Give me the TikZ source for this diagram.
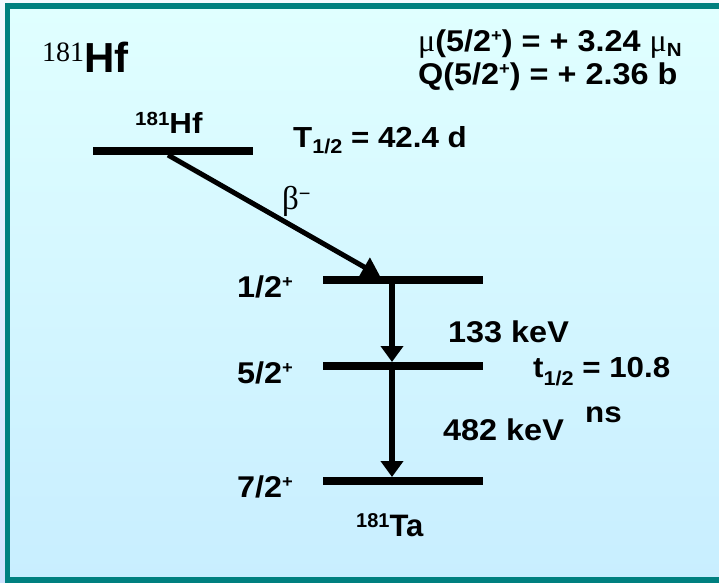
\documentclass[tikz,border=0pt]{standalone}
\usepackage{fontspec}
\setmainfont{Liberation Sans}
\newfontfamily\timesfont{Liberation Serif}
\newfontfamily\lblfont[FakeStretch=1.08]{Liberation Sans}
\usetikzlibrary{arrows.meta,positioning}
\definecolor{frameteal}{HTML}{008080}
\definecolor{skytop}{HTML}{E0FFFF}
\definecolor{skybottom}{HTML}{C8EEFF}
\definecolor{paletop}{HTML}{F4F9FF}
\definecolor{palebottom}{HTML}{CFE2FF}
\newcommand{\fsz}[1]{\fontsize{#1}{#1}\selectfont}
\newcommand{\up}[3]{\raisebox{#2}{\fsz{#1}#3}}
\tikzset{
  frame/.style={frameteal,line width=5.5pt},
  levelbar/.style={fill=black,minimum width=160pt,minimum height=8pt,inner sep=0pt,outer sep=0pt},
  gamma/.style={-{Triangle[length=16pt,width=22pt]},line width=6pt},
  beta/.style={-{Triangle[length=18pt,width=21pt]},line width=5pt},
  txt/.style={anchor=base west,inner sep=0pt,font=\lblfont\fsz{29}\bfseries},
  spin/.style={anchor=base east,inner sep=0pt,font=\lblfont\fsz{30}\bfseries}
}

\begin{document}
\begin{tikzpicture}[x=1pt,y=-1pt]
\useasboundingbox (0,0) rectangle (719,582);
\clip (0,0) rectangle (719,582);
\shade[top color=paletop,bottom color=palebottom] (0,0) rectangle (719,582);
\shade[top color=skytop,bottom color=skybottom] (7.5,6) rectangle (730,580);
\draw[frame] (730,6) -- (7.5,6) -- (7.5,580) -- (730,580);
\node[txt,font=\bfseries] (title) at (42,72) {{\timesfont\mdseries\up{28}{11pt}{181}}{\fsz{42}Hf}};
\node[txt,font=\lblfont\fsz{30}\bfseries] (mu) at (418,51) {{\timesfont\mdseries\fsz{32}μ}(5/2\up{17}{10pt}{+}) = + 3.24 {\timesfont\mdseries\fsz{32}μ}\up{19}{-5pt}{N}};
\node[txt,font=\lblfont\fsz{30}\bfseries] (quad) at (418,84) {Q(5/2\up{17}{10pt}{+}) = + 2.36 b};
\node[levelbar] (lhf) at (173,151) {};
\foreach \n/\y in {lone/280,lfive/366,lseven/481}
  \node[levelbar] (\n) at (403,\y) {};
\node[txt,font=\lblfont\fsz{29}\bfseries] (hf) at (135,133) {\up{19}{8pt}{181}Hf};
\node[txt,font=\lblfont\fsz{29}\bfseries] (thalf) at (293,147) {T\up{20}{-6pt}{1/2} = 42.4 d};
\draw[beta] ([xshift=-5pt]lhf.south) -- ([xshift=-23pt]lone.north);
\node[txt,font=\fsz{33}] (bminus) at (282,209) {{\timesfont β}\up{20}{9pt}{−}};
\node[spin] (jone) at (293,297) {1/2\up{17}{10pt}{+}};
\node[spin] (jfive) at (293,383) {5/2\up{17}{10pt}{+}};
\node[spin] (jseven) at (293,497) {7/2\up{17}{10pt}{+}};
\draw[gamma] ([xshift=-11pt]lone.south) -- ([xshift=-11pt]lfive.north);
\draw[gamma] ([xshift=-11pt]lfive.south) -- ([xshift=-11pt]lseven.north);
\node[txt,font=\lblfont\fsz{30}\bfseries] (eone) at (448,342) {133 keV};
\node[txt,font=\lblfont\fsz{30}\bfseries] (etwo) at (443,440) {482 keV};
\node[txt,font=\lblfont\fsz{29}\bfseries] (tlife) at (533,377) {t\up{20}{-8pt}{1/2} = 10.8};
\node[txt,font=\lblfont\fsz{29}\bfseries] (tunit) at (585,422) {ns};
\node[txt,font=\fsz{31}\bfseries] (ta) at (356,536) {\up{20}{9pt}{181}Ta};
\end{tikzpicture}
\end{document}
